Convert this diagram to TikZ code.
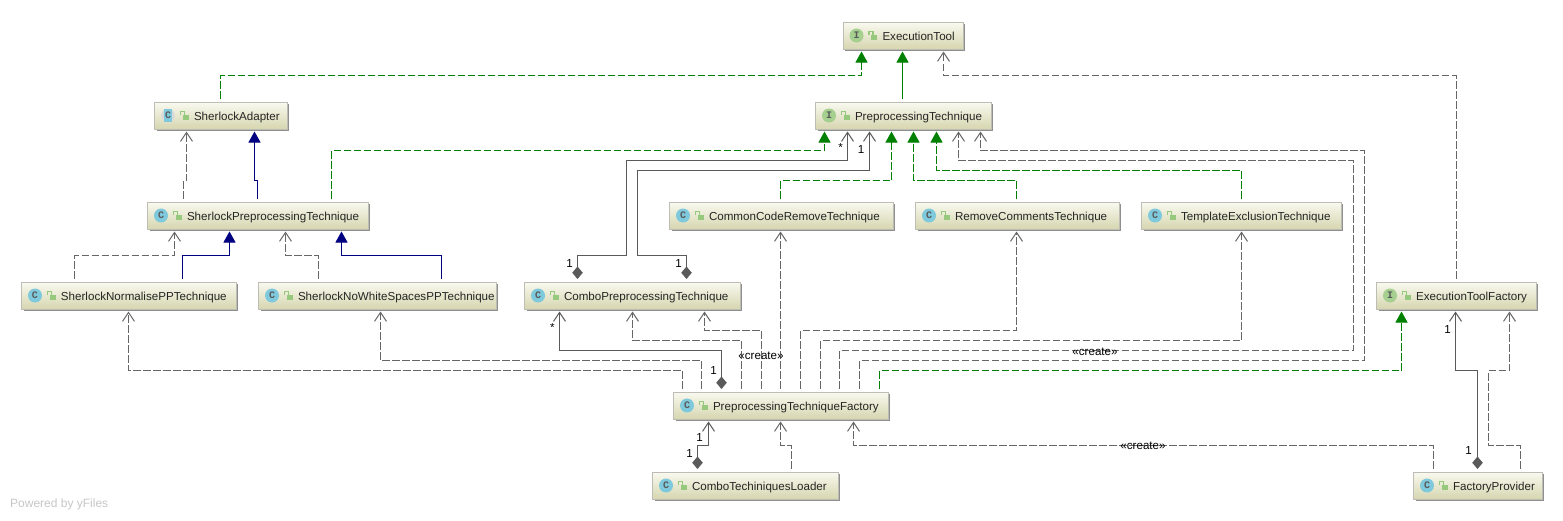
\documentclass[tikz,border=0pt]{standalone}
\usepackage{fontspec}
\setmainfont{Liberation Sans}
\newfontfamily\iconfont{Liberation Mono}
\usetikzlibrary{arrows.meta}
\definecolor{boxtop}{HTML}{F9F9F0}
\definecolor{boxbot}{HTML}{D6D6B0}
\definecolor{boxedge}{HTML}{BDBDB5}
\definecolor{boxshadow}{HTML}{8F8F8F}
\definecolor{lgray}{HTML}{5A5A5A}
\definecolor{dgray}{HTML}{666666}
\definecolor{lgreen}{HTML}{008000}
\definecolor{lnavy}{HTML}{000080}
\definecolor{icong}{HTML}{A5D08F}
\definecolor{iconb}{HTML}{7FC9DD}
\definecolor{lockc}{HTML}{96C97E}
\tikzset{
  x=1pt,y=-1pt,
  umlbox/.style={draw=boxedge,line width=1pt,top color=boxtop,bottom color=boxbot,minimum height=27pt,
    inner xsep=0pt,inner ysep=0pt,align=left,text height=10pt,text depth=1pt,
    font=\fontsize{11.6}{13}\selectfont,text=black!85},
  iconball/.style={circle,inner sep=0pt,minimum size=14pt,font=\iconfont\bfseries\fontsize{10}{10}\selectfont,text=black!65},
  tagtext/.style={inner sep=0pt,font=\fontsize{11.6}{13}\selectfont,text=black},
  dep/.style={draw=dgray,line width=1pt,dash pattern=on 7.5pt off 2.5pt,
    -{Straight Barb[length=9pt,width=12pt,line width=1pt,color=dgray]},shorten >=2pt,shorten <=3pt},
  realiz/.style={draw=lgreen,line width=1pt,dash pattern=on 7.5pt off 2.5pt,
    -{Triangle[length=11pt,width=12pt,color=lgreen]},shorten >=2pt,shorten <=3pt},
  inh/.style={draw=lgreen,line width=1pt,-{Triangle[length=11pt,width=12pt,color=lgreen]},shorten >=2pt,shorten <=3pt},
  ext/.style={draw=lnavy,line width=1pt,-{Triangle[length=11pt,width=12pt,color=lnavy]},shorten >=2pt,shorten <=3pt},
  comp/.style={draw=lgray,line width=1pt,{Diamond[length=12.5pt,width=10.5pt,color=lgray]}-{Straight Barb[length=9pt,width=12pt,line width=1pt,color=lgray]},shorten >=2pt,shorten <=2.5pt},
}
% name, left, right, top, I/C/A, text
\newcommand{\umlnode}[6]{%
  \pgfmathsetmacro{\bxw}{#3-#2}\pgfmathsetmacro{\bxc}{(#2+#3)/2}\pgfmathsetmacro{\bxm}{#4+13.5}
  \fill[boxshadow] (#2+2,#4+2) rectangle (#3+1.5,#4+28.5);
  \node[umlbox,text width=\bxw pt,minimum width=\bxw pt] (#1) at (\bxc,\bxm) {\hspace*{39.5pt}\mbox{#6}};
  \ifx#5I
    \node[iconball,fill=icong] (#1-icon) at (#2+13.5,\bxm) {I};
  \else\ifx#5C
    \node[iconball,fill=iconb] (#1-icon) at (#2+13.5,\bxm) {C};
  \else
    \fill[black!15] (#2+13.5,\bxm) circle (6.8);
    \fill[iconb] (#2+9.5,#4+7) rectangle (#2+17.5,#4+20);
    \node[iconball] (#1-icon) at (#2+13.5,\bxm) {C};
  \fi\fi
  \fill[lockc] (#2+28,#4+13) rectangle (#2+34,#4+18);
  \draw[lockc,line width=1.2pt] (#2+30,#4+13) -- (#2+30,#4+9.5) -- (#2+26,#4+9.5) -- (#2+26,#4+12.5);
}
\begin{document}
\begin{tikzpicture}
\useasboundingbox[fill=white] (0,0) rectangle (1563,520);

\umlnode{et}{843}{963}{22}{I}{ExecutionTool}
\umlnode{pt}{815.5}{991}{102}{I}{PreprocessingTechnique}
\umlnode{sa}{154.5}{287}{102}{A}{SherlockAdapter}
\umlnode{sp}{147.5}{368}{202}{C}{SherlockPreprocessingTechnique}
\umlnode{sn}{21.5}{236}{282}{C}{SherlockNormalisePPTechnique}
\umlnode{sw}{258.5}{496}{282}{C}{SherlockNoWhiteSpacesPPTechnique}
\umlnode{cp}{524.5}{740}{282}{C}{ComboPreprocessingTechnique}
\umlnode{cc}{669.5}{893}{202}{C}{CommonCodeRemoveTechnique}
\umlnode{rc}{915.5}{1119}{202}{C}{RemoveCommentsTechnique}
\umlnode{te}{1141.5}{1341.5}{202}{C}{TemplateExclusionTechnique}
\umlnode{ef}{1376.5}{1536}{282}{I}{ExecutionToolFactory}
\umlnode{pf}{673.5}{888}{392}{C}{PreprocessingTechniqueFactory}
\umlnode{cl}{652.5}{838}{472}{C}{ComboTechiniquesLoader}
\umlnode{fp}{1413.5}{1542}{472}{C}{FactoryProvider}

% ExecutionTool
\draw[realiz] (sa.north -| 220.5,0) |- (861.5,75.5) -- (et.south -| 861.5,0);
\draw[inh] (pt.north -| 902.5,0) -- (et.south -| 902.5,0);
\draw[dep] (ef.north -| 1456,0) |- (943.5,75.5) -- (et.south -| 943.5,0);

% Sherlock family
\draw[dep] (sp.north -| 183.5,0) -- (183.5,180.5) -- (186.5,180.5) -- (sa.south -| 186.5,0);
\draw[ext] (sp.north -| 257.5,0) -- (257.5,180.5) -- (254.5,180.5) -- (sa.south -| 254.5,0);
\draw[realiz] (sp.north -| 331.5,0) |- (824.5,150.5) -- (pt.south -| 824.5,0);
\draw[dep] (sn.north -| 74.5,0) |- (174.5,255.5) -- (sp.south -| 174.5,0);
\draw[ext] (sn.north -| 182.5,0) |- (229.5,255.5) -- (sp.south -| 229.5,0);
\draw[dep] (sw.north -| 318.5,0) |- (285.5,255.5) -- (sp.south -| 285.5,0);
\draw[ext] (sw.north -| 441.5,0) |- (341.5,255.5) -- (sp.south -| 341.5,0);

% Combo to PreprocessingTechnique
\draw[comp] (cp.north -| 577.5,0) |- (626.5,255.5) |- (847.5,160.5) -- (pt.south -| 847.5,0);
\draw[comp] (cp.north -| 686.5,0) |- (637.5,255.5) |- (869.5,170.5) -- (pt.south -| 869.5,0);

% Implementations of PreprocessingTechnique
\draw[realiz] (cc.north -| 780.5,0) |- (891.5,180.5) -- (pt.south -| 891.5,0);
\draw[realiz] (rc.north -| 1016.5,0) |- (913.5,180.5) -- (pt.south -| 913.5,0);
\draw[realiz] (te.north -| 1241.5,0) |- (936.5,170.5) -- (pt.south -| 936.5,0);

% Factory
\draw[dep] (pf.north -| 682.5,0) |- (128.5,370.5) -- (sn.south -| 128.5,0);
\draw[dep] (pf.north -| 701.5,0) |- (380.5,360.5) -- (sw.south -| 380.5,0);
\draw[comp] (pf.north -| 721.5,0) |- (559.5,350.5) -- (cp.south -| 559.5,0);
\draw[dep] (pf.north -| 741.5,0) |- (632.5,340.5) -- (cp.south -| 632.5,0);
\draw[dep] (pf.north -| 761.5,0) |- (704.5,330.5) -- (cp.south -| 704.5,0);
\draw[dep] (pf.north -| 780.5,0) -- (cc.south -| 780.5,0);
\draw[dep] (pf.north -| 800.5,0) |- (1016.5,330.5) -- (rc.south -| 1016.5,0);
\draw[dep] (pf.north -| 820.5,0) |- (1241.5,340.5) -- (te.south -| 1241.5,0);
\draw[dep] (pf.north -| 839.5,0) |- (1353.5,350.5) |- (958.5,160.5) -- (pt.south -| 958.5,0);
\draw[dep] (pf.north -| 859.5,0) |- (1364.5,360.5) |- (980.5,150.5) -- (pt.south -| 980.5,0);
\draw[realiz] (pf.north -| 879.5,0) |- (1401.5,370.5) -- (ef.south -| 1401.5,0);

% Loader and provider
\draw[comp] (cl.north -| 697.5,0) |- (708.5,445.5) -- (pf.south -| 708.5,0);
\draw[dep] (cl.north -| 791.5,0) |- (780.5,445.5) -- (pf.south -| 780.5,0);
\draw[dep] (fp.north -| 1433.5,0) |- (853.5,445.5) -- (pf.south -| 853.5,0);
\draw[comp] (fp.north -| 1477.5,0) |- (1455.5,370.5) -- (ef.south -| 1455.5,0);
\draw[dep] (fp.north -| 1520.5,0) |- (1488.5,445.5) |- (1509.5,370.5) -- (ef.south -| 1509.5,0);

% Labels
\node[tagtext] (t1) at (840.5,148) {*};
\node[tagtext] (t2) at (861,150) {1};
\node[tagtext] (t3) at (569.7,264) {1};
\node[tagtext] (t4) at (678.7,264) {1};
\node[tagtext] (t5) at (552.5,328) {*};
\node[tagtext] (t6) at (713.7,370.5) {1};
\node[tagtext] (t7) at (699.7,437.5) {1};
\node[tagtext] (t8) at (689.7,453.5) {1};
\node[tagtext] (t9) at (1447.7,330) {1};
\node[tagtext] (t10) at (1468.7,451) {1};
\node[tagtext] (c1) at (761,356) {«create»};
\node[tagtext] (c2) at (1095,351.5) {«create»};
\node[tagtext] (c3) at (1143,446) {«create»};
\node[inner sep=0pt,anchor=west,text=black!22,font=\fontsize{12}{14}\selectfont] (yf) at (10,504) {Powered by yFiles};
\end{tikzpicture}
\end{document}
